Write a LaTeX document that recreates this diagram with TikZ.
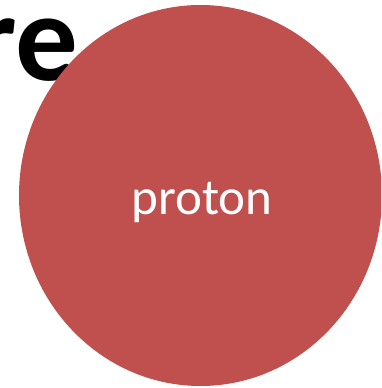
\documentclass[tikz,border=0pt]{standalone}
\usepackage{fontspec}
\setmainfont{Carlito}
\definecolor{protonred}{HTML}{C0504D}
\begin{document}
\begin{tikzpicture}[x=1pt,y=-1pt,
  titletext/.style={font=\fontsize{125}{125}\selectfont\bfseries, text=black, inner sep=0pt, anchor=base east},
  particle/.style={ellipse, fill=protonred, draw=none, inner sep=0pt, minimum width=363pt, minimum height=381pt},
  plabel/.style={font=\fontsize{51}{51}\selectfont, text=white, inner sep=0pt, anchor=base}]
\useasboundingbox (0,0) rectangle (381,388);
\clip (0,0) rectangle (381,388);
\node[titletext] (title) at (79,80) {re};
\fill[protonred] (200.5,195.5) ellipse [x radius=181.5, y radius=190.5];
\coordinate (pc) at (200.5,195.5);
\node[plabel] (proton) at (202,214) {proton};
\end{tikzpicture}
\end{document}
